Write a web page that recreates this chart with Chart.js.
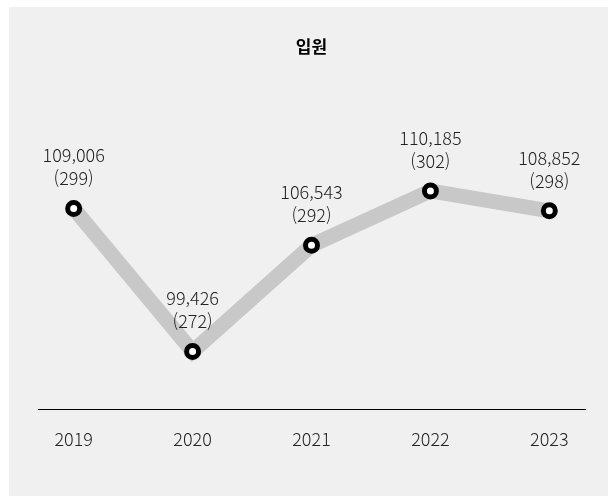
<!DOCTYPE html>
<html lang="ko">
<head>
    <meta charset="UTF-8">
    <title>입원</title>
    <script src="https://cdn.jsdelivr.net/npm/chart.js"></script>
    <style>
        body { margin: 0; background: #fff; }
        #bg { position: absolute; left: 9px; top: 7px; width: 599px; height: 489px; background: #f0f0f0; }
        #wrap { position: absolute; left: 0; top: 0; width: 608px; height: 496px; }
    </style>
</head>
<body>
    <div id="bg"></div>
    <div id="wrap"><canvas id="myChart" width="608" height="496"></canvas></div>

    <script>
        const years = [2019, 2020, 2021, 2022, 2023];
        const admissions = [109006, 99426, 106543, 110185, 108852];
        const perDay = [299, 272, 292, 302, 298];

        const FONT = "'Noto Sans CJK KR', 'Noto Sans', sans-serif";

        // two line labels above each point: total and (per day)
        const pointLabels = {
            id: 'pointLabels',
            afterDatasetsDraw(chart) {
                const ctx = chart.ctx;
                const meta = chart.getDatasetMeta(0);
                ctx.save();
                ctx.fillStyle = '#222';
                ctx.font = '300 18px ' + FONT;
                ctx.textAlign = 'center';
                ctx.textBaseline = 'middle';
                meta.data.forEach((pt, i) => {
                    ctx.fillText(admissions[i].toLocaleString('en-US'), pt.x, pt.y - 53);
                    ctx.fillText('(' + perDay[i] + ')', pt.x, pt.y - 30);
                });
                ctx.restore();
            }
        };

        const ctx = document.getElementById('myChart').getContext('2d');

        new Chart(ctx, {
            type: 'line',
            data: {
                datasets: [{
                    data: years.map((y, i) => ({ x: y, y: admissions[i] })),
                    borderColor: '#c8c8c8',
                    borderWidth: 15,
                    borderJoinStyle: 'miter',
                    tension: 0,
                    pointRadius: 6,
                    pointHoverRadius: 6,
                    pointBorderWidth: 5,
                    pointBorderColor: '#000',
                    pointBackgroundColor: '#fff',
                    fill: false
                }]
            },
            options: {
                responsive: false,
                animation: false,
                layout: { padding: { left: 38, right: 23, top: 0, bottom: 27 } },
                plugins: {
                    legend: { display: false },
                    tooltip: { enabled: false },
                    title: {
                        display: true,
                        text: '입원',
                        color: '#000',
                        font: { family: FONT, size: 17, weight: 'bold' },
                        padding: { top: 36, bottom: 54 }
                    }
                },
                scales: {
                    x: {
                        type: 'linear',
                        min: 2018.7,
                        max: 2023.3,
                        grid: { display: false, drawTicks: false },
                        border: { display: true, color: '#000', width: 1 },
                        ticks: {
                            stepSize: 1,
                            includeBounds: false,
                            padding: 19,
                            color: '#222',
                            font: { family: FONT, size: 18, weight: '300' },
                            callback: v => String(v)
                        }
                    },
                    y: {
                        display: false,
                        min: 95545,
                        max: 115585
                    }
                }
            },
            plugins: [pointLabels]
        });
    </script>
</body>
</html>
